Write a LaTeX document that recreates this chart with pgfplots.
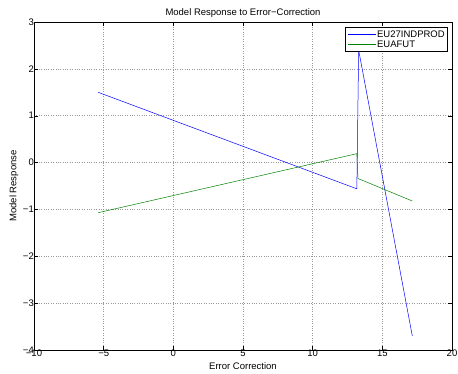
\documentclass[border=0pt]{standalone}
\usepackage{pgfplots}
\pgfplotsset{compat=1.18}
\usepackage{fontspec}
\setmainfont{Liberation Sans}
\newcommand{\fs}{\fontsize{9.5bp}{11bp}\selectfont}
\begin{document}
\begin{tikzpicture}[x=1bp,y=1bp]
\useasboundingbox (0,0) rectangle (458,373);
\begin{axis}[
  at={(34bp,23bp)}, anchor=south west,
  scale only axis, width=418bp, height=328bp,
  xmin=-10, xmax=20, ymin=-4, ymax=3,
  xtick={-10,-5,0,5,10,15,20},
  xticklabels={−10,−5,0,5,10,15,20},
  ytick={-4,-3,-2,-1,0,1,2,3},
  yticklabels={−4,−3,−2,−1,0,1,2,3},
  tick align=inside,
  major tick length=4bp,
  tick style={black, line width=0.4pt},
  grid=major,
  grid style={dotted, gray!80, line width=0.5pt},
  axis line style={black, line width=0.6pt},
  tick label style={font=\fs, inner sep=1bp},
  xticklabel style={yshift=1bp},
  yticklabel style={xshift=1bp},
  label style={font=\fs},
  title style={font=\fs, yshift=-5bp},
  title={Model Response to Error−Correction},
  xlabel={Error Correction},
  ylabel={Model Response},
  xlabel style={yshift=-1bp},
  ylabel style={yshift=0bp},
  legend style={at={(0.9904,0.985)}, anchor=north east, line width=0.6pt,
    font=\fs, inner xsep=2pt, inner ysep=2pt, row sep=0pt,
    nodes={inner sep=1pt, text height=7bp, text depth=1bp}},
  legend cell align=left,
  legend image code/.code={\draw[mark repeat=2,mark phase=2,#1] plot coordinates {(0bp,0bp) (14bp,0bp) (28bp,0bp)};},
]
\addplot[blue, line width=0.5pt] coordinates {
  (-5.4,1.50) (13.17,-0.56) (13.3,2.40) (17.15,-3.70)
};
\addlegendentry{EU27INDPROD}
\addplot[green!50!black, line width=0.5pt] coordinates {
  (-5.4,-1.07) (13.17,0.19) (13.25,-0.34) (17.15,-0.82)
};
\addlegendentry{EUAFUT}
\end{axis}
\end{tikzpicture}
\end{document}
